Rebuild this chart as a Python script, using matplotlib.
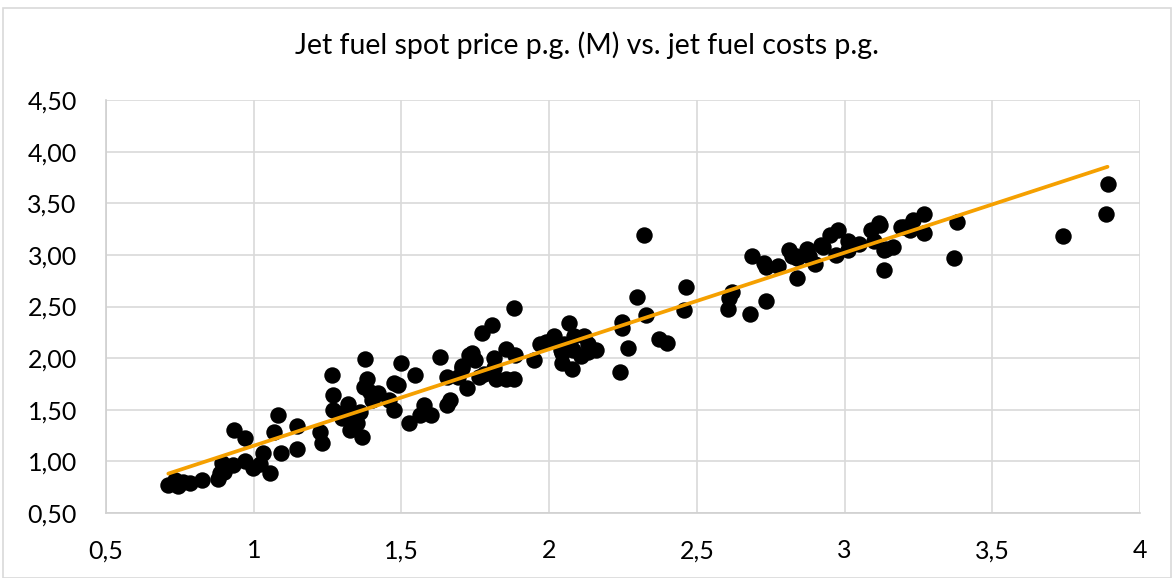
import matplotlib
matplotlib.use("Agg")
import matplotlib.pyplot as plt
import numpy as np
from matplotlib.ticker import FuncFormatter
from matplotlib.patches import Rectangle

title = "Jet fuel spot price p.g. (M) vs. jet fuel costs p.g."

x_vals = [0.711, 0.745, 0.734, 0.785, 0.824, 0.88, 0.886, 0.892, 0.93, 0.971,
          0.999, 1.054, 1.033, 1.093, 1.148, 0.934, 0.971, 1.082, 1.067, 1.148,
          1.225, 1.231, 1.265, 1.27, 1.27, 1.299, 1.31, 1.32, 1.344, 1.327,
          1.367, 1.35, 1.378, 1.384, 1.372, 1.395, 1.40, 1.457, 1.474, 1.474,
          1.49, 1.50, 1.547, 1.525, 1.564, 1.576, 1.63, 1.655, 1.666, 1.655,
          1.706, 1.728, 1.74, 1.722, 1.705, 1.75, 1.762, 1.773, 1.807, 1.813,
          1.813, 1.819, 1.853, 1.88, 1.853, 1.886, 1.88, 1.95, 1.99, 2.016,
          2.04, 2.067, 2.045, 2.079, 2.084, 2.118, 2.13, 2.107, 2.157, 2.239,
          2.267, 2.248, 2.248, 2.299, 2.327, 2.372, 2.40, 2.32, 2.457, 2.463,
          2.604, 2.61, 2.62, 2.68, 2.734, 2.685, 2.728, 2.734, 2.773, 2.84,
          2.812, 2.823, 2.84, 2.874, 2.88, 2.90, 2.926, 2.949, 2.977, 2.97,
          3.01, 3.01, 3.05, 3.09, 3.118, 3.10, 3.135, 3.163, 3.135, 3.19,
          3.22, 3.23, 3.27, 3.27, 3.38, 3.37, 3.74, 3.886, 3.89,
          2.05, 2.045, 2.13, 1.97, 2.005, 2.08, 2.92, 3.12, 3.14, 3.20, 2.835,
          0.76, 0.90, 1.02, 1.36, 1.42, 1.60, 1.69, 1.78]
y_vals = [0.77, 0.76, 0.82, 0.79, 0.82, 0.83, 0.885, 0.98, 0.965, 1.00,
          0.94, 0.885, 1.08, 1.08, 1.12, 1.30, 1.23, 1.45, 1.28, 1.34,
          1.28, 1.175, 1.84, 1.64, 1.50, 1.42, 1.48, 1.56, 1.43, 1.30,
          1.24, 1.37, 1.99, 1.795, 1.72, 1.675, 1.59, 1.59, 1.50, 1.76,
          1.74, 1.95, 1.84, 1.37, 1.45, 1.55, 2.01, 1.82, 1.59, 1.55,
          1.92, 2.03, 2.05, 1.71, 1.90, 1.98, 1.82, 2.24, 2.32, 2.00,
          1.90, 1.80, 1.80, 1.795, 2.085, 2.03, 2.49, 1.98, 2.16, 2.21,
          2.08, 2.34, 1.95, 1.89, 2.21, 2.21, 2.14, 2.02, 2.08, 1.87,
          2.10, 2.35, 2.29, 2.59, 2.42, 2.19, 2.15, 3.19, 2.47, 2.69,
          2.48, 2.58, 2.64, 2.43, 2.55, 2.99, 2.92, 2.88, 2.89, 2.78,
          3.05, 2.99, 2.97, 3.06, 2.985, 2.91, 3.08, 3.19, 3.24, 3.00,
          3.13, 3.05, 3.11, 3.24, 3.31, 3.13, 3.05, 3.08, 2.855, 3.27,
          3.24, 3.34, 3.40, 3.21, 3.32, 2.97, 3.18, 3.40, 3.69,
          2.14, 2.05, 2.06, 2.14, 2.17, 2.08, 3.10, 3.29, 3.06, 3.27, 2.985,
          0.80, 0.90, 0.97, 1.48, 1.66, 1.45, 1.82, 1.85]

x_ticks = [0.5, 1.0, 1.5, 2.0, 2.5, 3.0, 3.5, 4.0]
y_ticks = [0.5, 1.0, 1.5, 2.0, 2.5, 3.0, 3.5, 4.0, 4.5]

plt.rcParams['font.family'] = ['Lato', 'DejaVu Sans']

fig = plt.figure(figsize=(11.74, 5.78), dpi=100)
ax = fig.add_axes([106/1174, (578-513)/578, (1140-106)/1174, (513-100)/578])

xs = np.array(x_vals)
ys = np.array(y_vals)
ax.scatter(xs, ys, s=140, color='black', zorder=3, linewidths=0)

slope, intercept = np.polyfit(xs, ys, 1)
lx = np.array([xs.min(), xs.max()])
ax.plot(lx, slope * lx + intercept, color='#F5A000', linewidth=2.7, zorder=4,
        solid_capstyle='round')

ax.set_xlim(0.5, 4.0)
ax.set_ylim(0.5, 4.5)
ax.set_xticks(x_ticks)
ax.set_yticks(y_ticks)

def fx(v, p):
    return ('%g' % v).replace('.', ',')

def fy(v, p):
    return ('%.2f' % v).replace('.', ',')

ax.xaxis.set_major_formatter(FuncFormatter(fx))
ax.yaxis.set_major_formatter(FuncFormatter(fy))
ax.grid(True, color='#d9d9d9', linewidth=1.2, zorder=0)
ax.set_axisbelow(True)
for sp in ['top', 'right']:
    ax.spines[sp].set_visible(False)
for sp in ['bottom', 'left']:
    ax.spines[sp].set_color('#d0d0d0')
    ax.spines[sp].set_linewidth(1.2)
ax.tick_params(axis='both', length=0, labelsize=18, colors='#000000')
ax.tick_params(axis='y', pad=21)
ax.tick_params(axis='x', pad=19)

fig.text(0.5, 1 - 45/578, title, ha='center', va='center', fontsize=20.5)

fig.patches.append(Rectangle((3/1174, 0), 1 - 6/1174, 1 - 8/578,
                             transform=fig.transFigure, fill=False,
                             edgecolor='#d9d9d9', linewidth=1.2))

fig.savefig('out.png', dpi=100)
